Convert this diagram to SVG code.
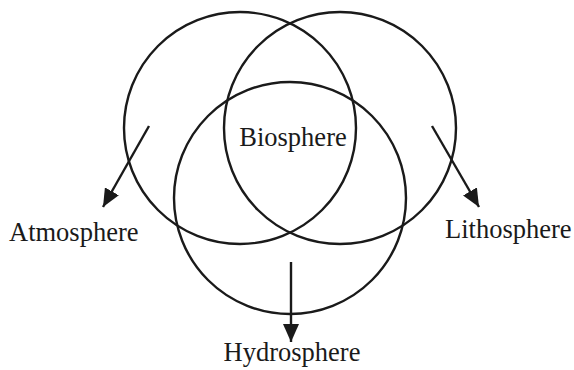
<svg xmlns="http://www.w3.org/2000/svg" width="574" height="370" viewBox="0 0 574 370">
<style>
.c{fill:none;stroke:#1a1a1a;stroke-width:2.4}
.a{fill:none;stroke:#1a1a1a;stroke-width:2.4}
text{font-family:"Liberation Serif","Times New Roman",serif;font-size:26.5px;fill:#1a1a1a}
</style>
<defs>
<marker id="ah" viewBox="0 0 18 16" refX="18" refY="8" markerWidth="18" markerHeight="16" markerUnits="userSpaceOnUse" orient="auto">
<path d="M0,0 L18,8 L0,16 Z" fill="#1a1a1a"/>
</marker>
</defs>
<g id="atmosphere-circle"><circle class="c" cx="240" cy="128" r="116"/></g>
<g id="lithosphere-circle"><circle class="c" cx="340" cy="128" r="116"/></g>
<g id="hydrosphere-circle"><circle class="c" cx="290" cy="198" r="116"/></g>
<g id="biosphere"><text x="293" y="146" text-anchor="middle">Biosphere</text></g>
<g id="atmosphere"><text x="9" y="241">Atmosphere</text></g>
<g id="lithosphere"><text x="445" y="238">Lithosphere</text></g>
<g id="hydrosphere"><text x="292" y="361" text-anchor="middle">Hydrosphere</text></g>
<g id="connectors">
<line class="a" x1="149" y1="126" x2="103" y2="207" marker-end="url(#ah)"/>
<line class="a" x1="432" y1="126" x2="479" y2="207" marker-end="url(#ah)"/>
<line class="a" x1="291" y1="262" x2="291" y2="342" marker-end="url(#ah)"/>
</g>
</svg>
